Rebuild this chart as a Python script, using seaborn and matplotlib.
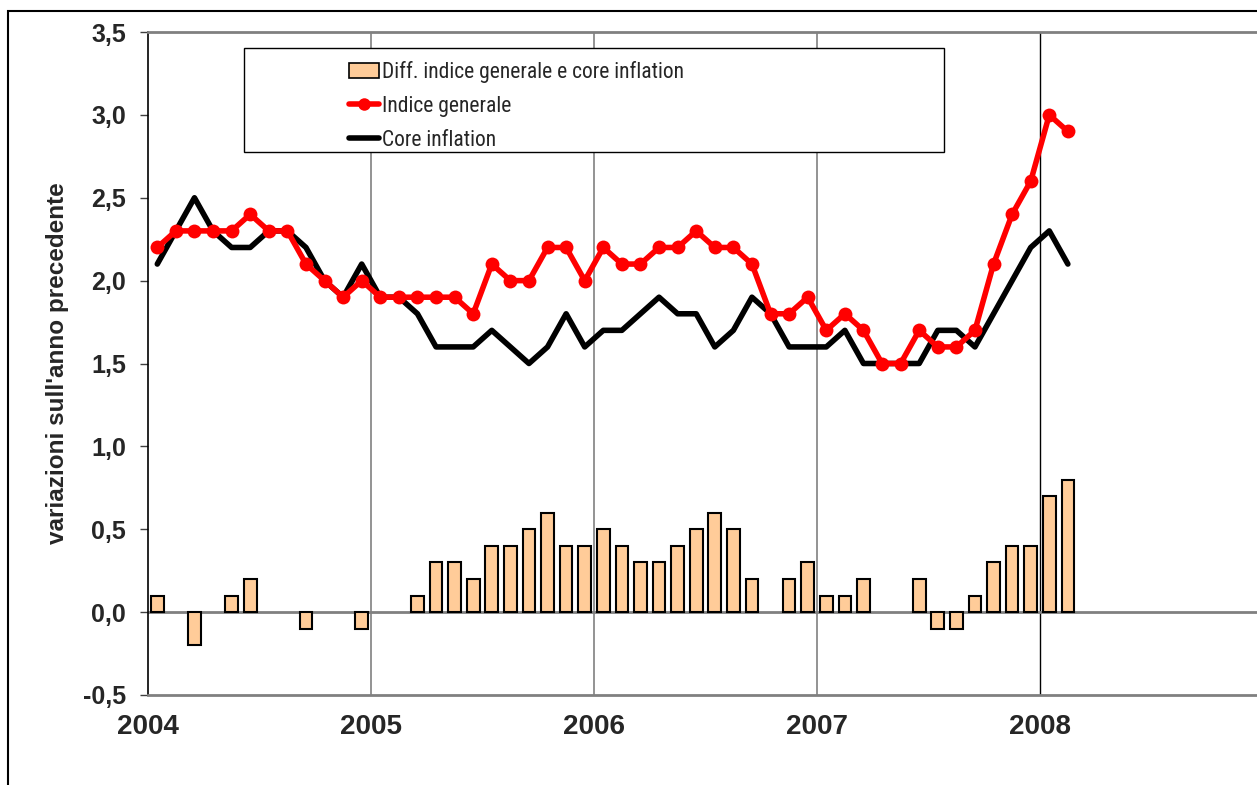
import numpy as np
import pandas as pd
import seaborn as sns
import matplotlib.pyplot as plt
from matplotlib import font_manager
from matplotlib.patches import Rectangle, Patch
from matplotlib.lines import Line2D
from matplotlib.ticker import FuncFormatter

# monthly data, Jan 2004 - Feb 2008
indice_generale = [
    2.2, 2.3, 2.3, 2.3, 2.3, 2.4, 2.3, 2.3, 2.1, 2.0, 1.9, 2.0,
    1.9, 1.9, 1.9, 1.9, 1.9, 1.8, 2.1, 2.0, 2.0, 2.2, 2.2, 2.0,
    2.2, 2.1, 2.1, 2.2, 2.2, 2.3, 2.2, 2.2, 2.1, 1.8, 1.8, 1.9,
    1.7, 1.8, 1.7, 1.5, 1.5, 1.7, 1.6, 1.6, 1.7, 2.1, 2.4, 2.6,
    3.0, 2.9,
]
core_inflation = [
    2.1, 2.3, 2.5, 2.3, 2.2, 2.2, 2.3, 2.3, 2.2, 2.0, 1.9, 2.1,
    1.9, 1.9, 1.8, 1.6, 1.6, 1.6, 1.7, 1.6, 1.5, 1.6, 1.8, 1.6,
    1.7, 1.7, 1.8, 1.9, 1.8, 1.8, 1.6, 1.7, 1.9, 1.8, 1.6, 1.6,
    1.6, 1.7, 1.5, 1.5, 1.5, 1.5, 1.7, 1.7, 1.6, 1.8, 2.0, 2.2,
    2.3, 2.1,
]
diff = [
    0.1, 0.0, -0.2, 0.0, 0.1, 0.2, 0.0, 0.0, -0.1, 0.0, 0.0, -0.1,
    0.0, 0.0, 0.1, 0.3, 0.3, 0.2, 0.4, 0.4, 0.5, 0.6, 0.4, 0.4,
    0.5, 0.4, 0.3, 0.3, 0.4, 0.5, 0.6, 0.5, 0.2, 0.0, 0.2, 0.3,
    0.1, 0.1, 0.2, 0.0, 0.0, 0.2, -0.1, -0.1, 0.1, 0.3, 0.4, 0.4,
    0.7, 0.8,
]
years = [2004, 2005, 2006, 2007, 2008]
y_ticks = [-0.5, 0.0, 0.5, 1.0, 1.5, 2.0, 2.5, 3.0, 3.5]

months = pd.date_range("2004-01-01", periods=len(diff), freq="MS")
df = pd.DataFrame({
    "t": months.year + (months.month - 0.5) / 12,
    "generale": indice_generale,
    "core": core_inflation,
    "diff": diff,
})

sns.set_style("white")
plt.rcParams["font.family"] = ["Liberation Sans", "DejaVu Sans"]

# narrow font for the legend if there is one
installed = {f.name for f in font_manager.fontManager.ttflist}
if "Roboto Condensed" in installed:
    leg_family, leg_size = "Roboto Condensed", 15.5
else:
    leg_family, leg_size = "Liberation Sans", 15

W, H = 1257, 785
fig = plt.figure(figsize=(W / 100, H / 100), dpi=100)
ax = fig.add_axes([148 / W, 90 / H, (1263 - 148) / W, (695 - 32) / H])

# outer chart border
fig.patches.append(Rectangle((8 / W, -0.1), 1.2, (774 / H) + 0.1,
                             transform=fig.transFigure, fill=False,
                             edgecolor="black", linewidth=1.5))

# year gridlines
for yr in years[1:4]:
    ax.axvline(yr, color="#808080", linewidth=1.2, zorder=0)
ax.axvline(2008, color="black", linewidth=1.0, zorder=0)

bars = df[df["diff"] != 0]
ax.bar(bars["t"], bars["diff"], width=0.68 / 12, color="#FFCC99",
       edgecolor="black", linewidth=1.5, zorder=2)
ax.axhline(0, color="#808080", linewidth=2, zorder=1)
sns.lineplot(data=df, x="t", y="core", ax=ax, color="black", linewidth=4,
             zorder=3)
sns.lineplot(data=df, x="t", y="generale", ax=ax, color="#FF0000",
             linewidth=4, marker="o", markersize=10, markeredgewidth=0,
             zorder=4)

ax.set_xlim(2004, 2009)
ax.set_ylim(-0.5, 3.5)
ax.set_xticks(years)
ax.set_xticklabels([str(y) for y in years], fontsize=20, fontweight="bold")
ax.set_yticks(y_ticks)
ax.yaxis.set_major_formatter(FuncFormatter(lambda v, p: f"{v:.1f}".replace(".", ",")))
ax.tick_params(axis="y", length=6, width=1, direction="out", left=True,
               color="#404040", pad=10, labelsize=18)
for lab in ax.get_yticklabels():
    lab.set_fontweight("bold")
ax.tick_params(axis="x", length=0, pad=14)
ax.set_xlabel("")
ax.set_ylabel("variazioni sull'anno precedente", fontsize=17.5,
              fontweight="bold", labelpad=10)

for s in ["top", "bottom", "right"]:
    ax.spines[s].set_color("#808080")
    ax.spines[s].set_linewidth(2)
ax.spines["left"].set_color("black")
ax.spines["left"].set_linewidth(1.2)

# legend with its own frame
fig.patches.append(Rectangle((244 / W, 1 - 152 / H), 700 / W, 104 / H,
                             transform=fig.transFigure, facecolor="white",
                             edgecolor="black", linewidth=1, zorder=5))
handles = [
    Patch(facecolor="#FFCC99", edgecolor="black", linewidth=1.2),
    Line2D([], [], color="#FF0000", linewidth=4, marker="o", markersize=9,
           markeredgewidth=0),
    Line2D([], [], color="black", linewidth=4),
]
labels = ["Diff. indice generale e core inflation", "Indice generale",
          "Core inflation"]
leg = fig.legend(handles, labels, loc="upper left",
                 bbox_to_anchor=(338 / W, 1 - 50 / H), frameon=False,
                 prop={"family": [leg_family, "DejaVu Sans"], "size": leg_size},
                 handlelength=1.4, handletextpad=0.15,
                 labelspacing=0.6, borderpad=0)
leg.set_zorder(6)

fig.savefig("out.png", dpi=100)
